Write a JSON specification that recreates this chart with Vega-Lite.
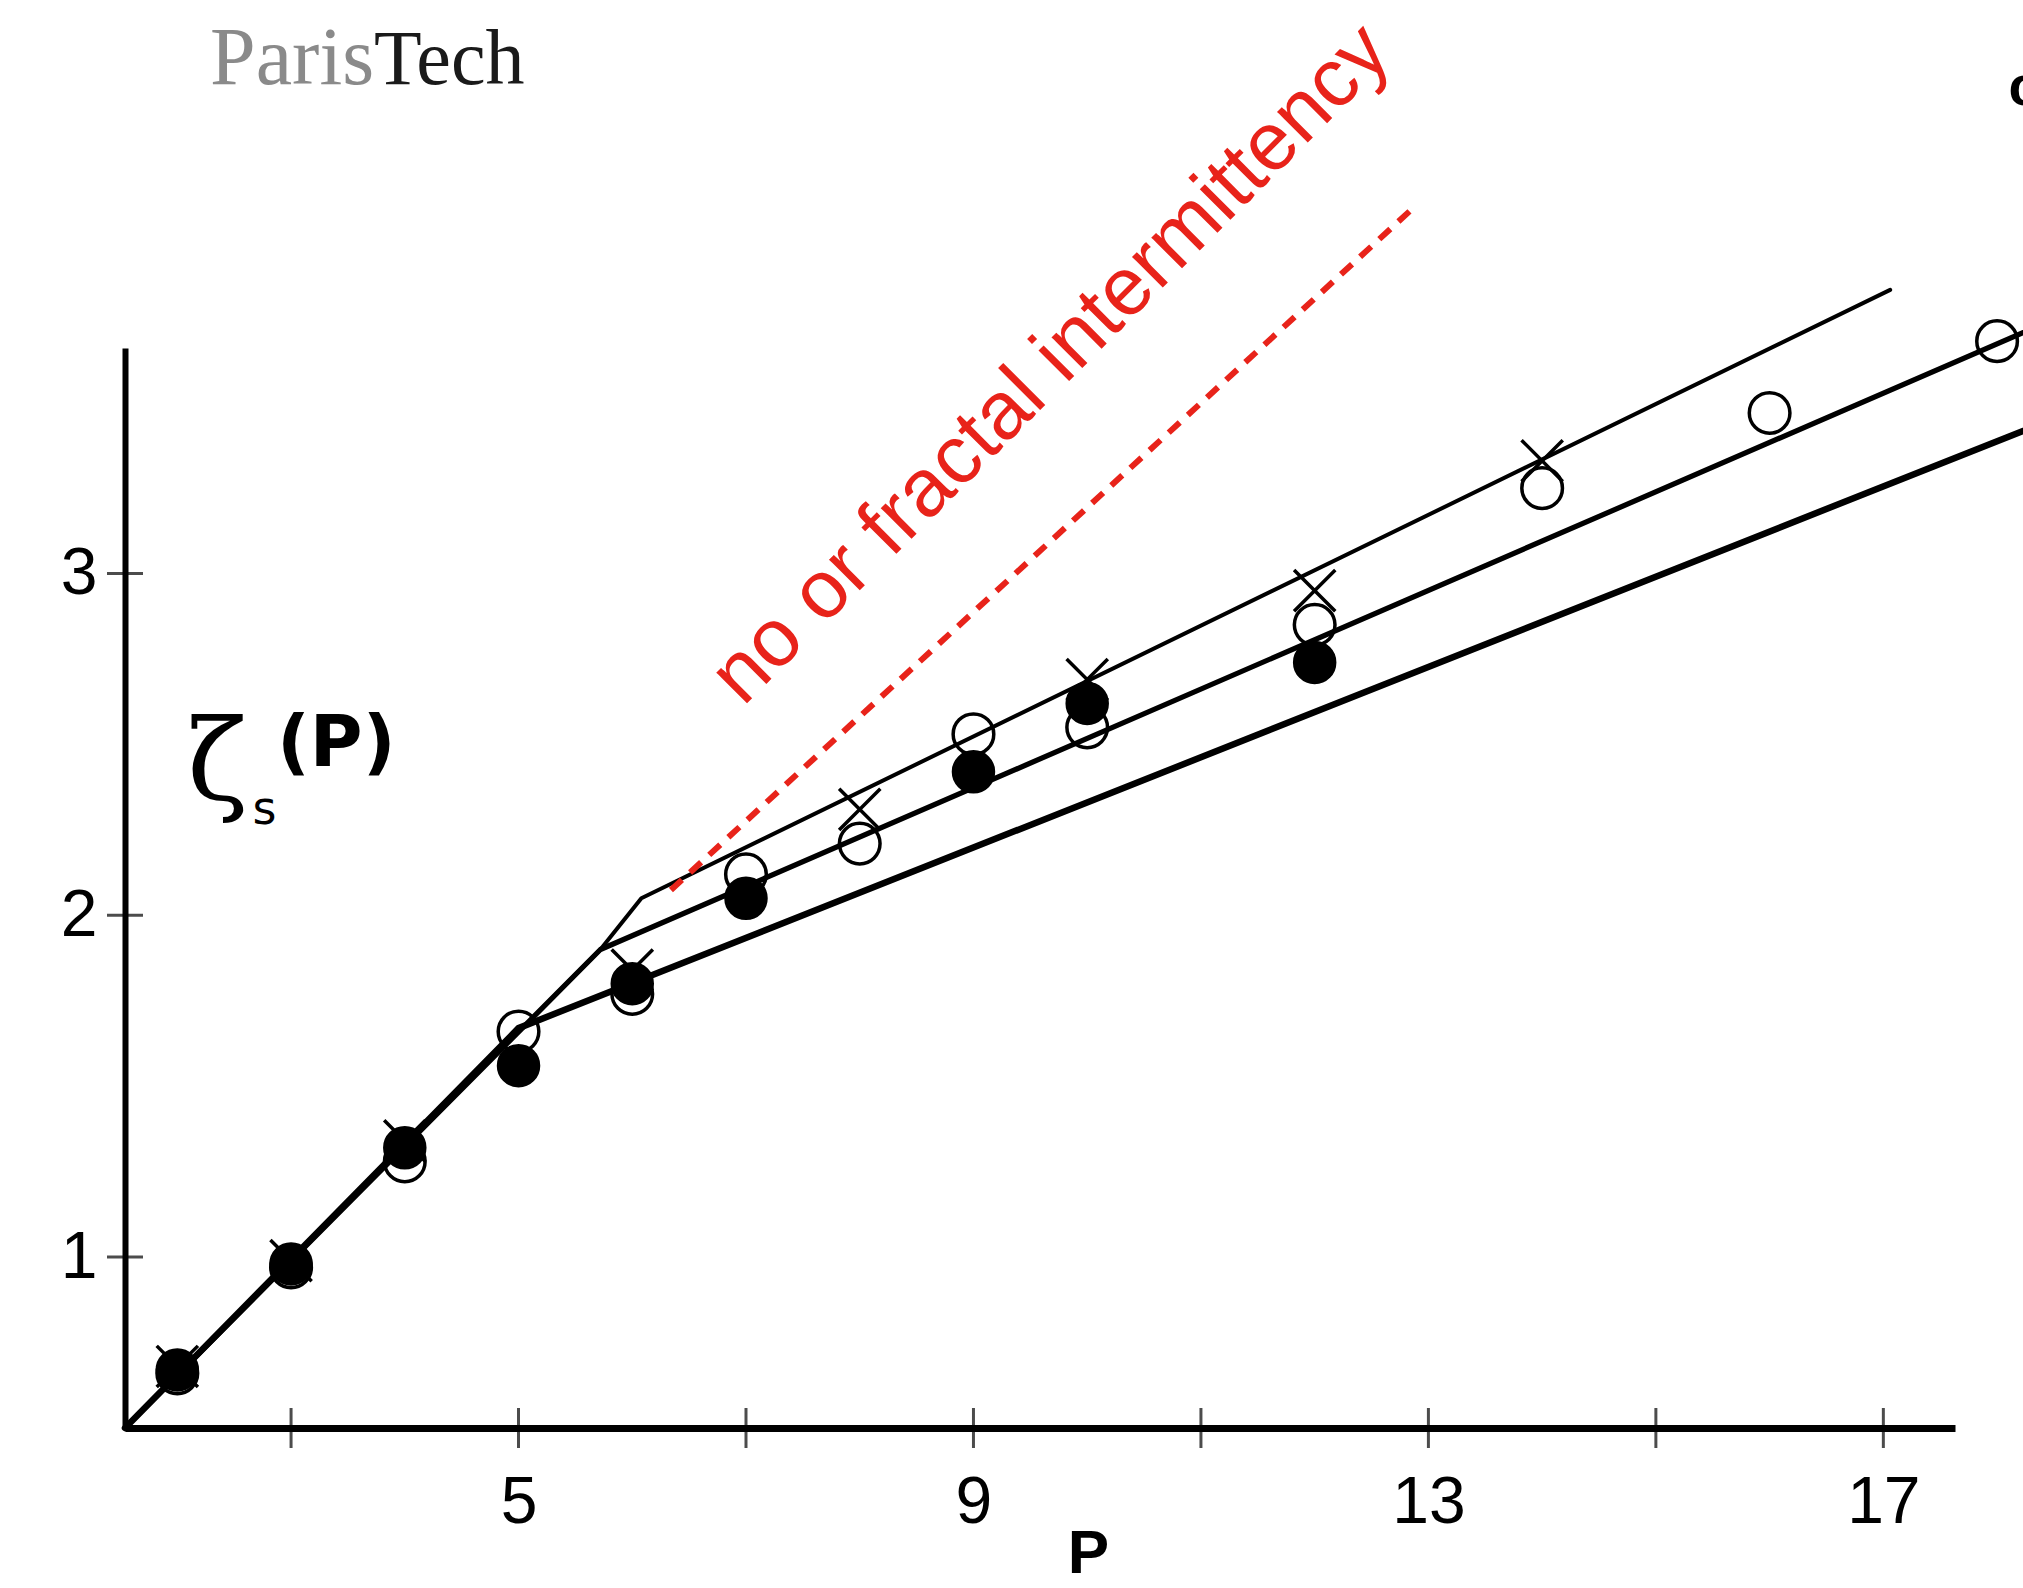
{
  "$schema": "https://vega.github.io/schema/vega-lite/v6.json",
  "width": 1830,
  "height": 1080,
  "autosize": {"type": "none"},
  "padding": {"left": 125, "top": 348, "right": 68, "bottom": 160},
  "background": "white",
  "config": {"view": {"stroke": null}},
  "datasets": {
    "points": [
      {"p": 2, "z": 0.67, "s": "filled"}, {"p": 2, "z": 0.66, "s": "open"}, {"p": 2, "z": 0.68, "s": "cross"},
      {"p": 3, "z": 0.98, "s": "filled"}, {"p": 3, "z": 0.97, "s": "open"}, {"p": 3, "z": 0.99, "s": "cross"},
      {"p": 4, "z": 1.32, "s": "filled"}, {"p": 4, "z": 1.28, "s": "open"}, {"p": 4, "z": 1.34, "s": "cross"},
      {"p": 5, "z": 1.56, "s": "filled"}, {"p": 5, "z": 1.66, "s": "open"},
      {"p": 6, "z": 1.80, "s": "filled"}, {"p": 6, "z": 1.77, "s": "open"}, {"p": 6, "z": 1.84, "s": "cross"},
      {"p": 7, "z": 2.05, "s": "filled"}, {"p": 7, "z": 2.12, "s": "open"},
      {"p": 8, "z": 2.21, "s": "open"}, {"p": 8, "z": 2.31, "s": "cross"},
      {"p": 9, "z": 2.42, "s": "filled"}, {"p": 9, "z": 2.53, "s": "open"},
      {"p": 10, "z": 2.62, "s": "filled"}, {"p": 10, "z": 2.55, "s": "open"}, {"p": 10, "z": 2.69, "s": "cross"},
      {"p": 12, "z": 2.74, "s": "filled"}, {"p": 12, "z": 2.85, "s": "open"}, {"p": 12, "z": 2.95, "s": "cross"},
      {"p": 14, "z": 3.25, "s": "open"}, {"p": 14, "z": 3.33, "s": "cross"},
      {"p": 16, "z": 3.47, "s": "open"},
      {"p": 18, "z": 3.68, "s": "open"}
    ],
    "lines": [
      {"line": "top", "p": 1.54, "z": 0.5}, {"line": "top", "p": 5.72, "z": 1.90}, {"line": "top", "p": 6.08, "z": 2.05}, {"line": "top", "p": 17.06, "z": 3.83},
      {"line": "mid", "p": 1.54, "z": 0.5}, {"line": "mid", "p": 5.72, "z": 1.90}, {"line": "mid", "p": 18.4, "z": 3.73},
      {"line": "bot", "p": 1.54, "z": 0.5}, {"line": "bot", "p": 5.0, "z": 1.67}, {"line": "bot", "p": 18.4, "z": 3.44}
    ],
    "dashed": [{"p": 6.34, "z": 2.074}, {"p": 12.9, "z": 4.08}],
    "ticksx": [{"p": 3}, {"p": 5}, {"p": 7}, {"p": 9}, {"p": 11}, {"p": 13}, {"p": 15}, {"p": 17}],
    "ticksy": [{"z": 1}, {"z": 2}, {"z": 3}],
    "notes": [
      {"t": "no or fractal intermittency", "p": 9.68, "z": 3.613, "k": "red"},
      {"t": "Paris", "p": 3.73, "z": 4.432, "k": "paris"},
      {"t": "Tech", "p": 3.73, "z": 4.432, "k": "tech"},
      {"t": "c", "p": 18.1, "z": 4.42, "k": "c"},
      {"t": "ζ", "p": 2.085, "z": 2.437, "k": "zeta"},
      {"t": "s", "p": 2.66, "z": 2.308, "k": "sub"},
      {"t": "(P)", "p": 2.876, "z": 2.50, "k": "arg"}
    ]
  },
  "layer": [
    {
      "data": {"name": "lines"},
      "mark": {"type": "line", "color": "black", "strokeCap": "round", "strokeJoin": "round"},
      "encoding": {
        "x": {"field": "p", "type": "quantitative", "scale": {"domain": [1.54, 17.63], "nice": false, "zero": false},
          "axis": {"values": [5, 9, 13, 17], "format": "d", "ticks": false, "tickSize": 0, "grid": false, "domainWidth": 7, "domainColor": "black",
            "labelFont": "Liberation Sans", "labelFontSize": 66, "labelColor": "black", "labelPadding": 42,
            "labelFlush": false, "labelOverlap": false,
            "title": "P", "titleFont": "Liberation Sans", "titleFontSize": 62, "titleFontWeight": "bold", "titleColor": "black",
            "titleX": 963, "titleY": 144, "titleBaseline": "alphabetic", "titleAlign": "center", "titleAnchor": null}},
        "y": {"field": "z", "type": "quantitative", "scale": {"domain": [0.5, 3.66], "nice": false, "zero": false},
          "axis": {"values": [1, 2, 3], "format": "d", "ticks": false, "tickSize": 0, "grid": false, "domainWidth": 6, "domainColor": "black",
            "labelFont": "Liberation Sans", "labelFontSize": 66, "labelColor": "black", "labelPadding": 28,
            "labelFlush": false, "labelOverlap": false, "title": null}},
        "detail": {"field": "line"},
        "strokeWidth": {"field": "line", "type": "nominal", "scale": {"domain": ["top", "mid", "bot"], "range": [4, 6.5, 6.5]}, "legend": null}
      }
    },
    {
      "data": {"name": "dashed"},
      "mark": {"type": "line", "color": "#e8231a", "strokeWidth": 6, "strokeDash": [15, 11]},
      "encoding": {
        "x": {"field": "p", "type": "quantitative", "scale": {"domain": [1.54, 17.63], "nice": false, "zero": false}},
        "y": {"field": "z", "type": "quantitative", "scale": {"domain": [0.5, 3.66], "nice": false, "zero": false}}
      }
    },
    {
      "data": {"name": "ticksx"},
      "mark": {"type": "tick", "orient": "vertical", "size": 40, "thickness": 3, "color": "black"},
      "encoding": {
        "x": {"field": "p", "type": "quantitative", "scale": {"domain": [1.54, 17.63], "nice": false, "zero": false}},
        "y": {"datum": 0.5, "type": "quantitative", "scale": {"domain": [0.5, 3.66], "nice": false, "zero": false}}
      }
    },
    {
      "data": {"name": "ticksy"},
      "mark": {"type": "tick", "orient": "horizontal", "size": 36, "thickness": 3, "color": "black"},
      "encoding": {
        "x": {"datum": 1.54, "type": "quantitative", "scale": {"domain": [1.54, 17.63], "nice": false, "zero": false}},
        "y": {"field": "z", "type": "quantitative", "scale": {"domain": [0.5, 3.66], "nice": false, "zero": false}}
      }
    },
    {
      "data": {"name": "points"},
      "mark": {"type": "point", "filled": false, "stroke": "black", "strokeWidth": 3.5, "opacity": 1},
      "encoding": {
        "x": {"field": "p", "type": "quantitative", "scale": {"domain": [1.54, 17.63], "nice": false, "zero": false}},
        "y": {"field": "z", "type": "quantitative", "scale": {"domain": [0.5, 3.66], "nice": false, "zero": false}},
        "shape": {"field": "s", "type": "nominal", "scale": {"domain": ["filled", "open", "cross"], "range": ["circle", "circle", "M-1,-1L1,1M-1,1L1,-1"]}, "legend": null},
        "size": {"field": "s", "type": "nominal", "scale": {"domain": ["filled", "open", "cross"], "range": [1600, 1700, 900]}, "legend": null},
        "fill": {"field": "s", "type": "nominal", "scale": {"domain": ["filled", "open", "cross"], "range": ["black", "transparent", "transparent"]}, "legend": null}
      }
    },
    {
      "data": {"name": "notes"},
      "transform": [{"filter": "datum.k === 'red'"}],
      "mark": {"type": "text", "angle": -45, "align": "center", "baseline": "middle", "font": "Liberation Sans", "fontSize": 82, "color": "#e8231a"},
      "encoding": {
        "x": {"field": "p", "type": "quantitative", "scale": {"domain": [1.54, 17.63], "nice": false, "zero": false}},
        "y": {"field": "z", "type": "quantitative", "scale": {"domain": [0.5, 3.66], "nice": false, "zero": false}},
        "text": {"field": "t"}
      }
    },
    {
      "data": {"name": "notes"},
      "transform": [{"filter": "datum.k === 'paris'"}],
      "mark": {"type": "text", "align": "right", "baseline": "alphabetic", "font": "Liberation Serif", "fontSize": 82, "color": "#8a8a8a"},
      "encoding": {
        "x": {"field": "p", "type": "quantitative", "scale": {"domain": [1.54, 17.63], "nice": false, "zero": false}},
        "y": {"field": "z", "type": "quantitative", "scale": {"domain": [0.5, 3.66], "nice": false, "zero": false}},
        "text": {"field": "t"}
      }
    },
    {
      "data": {"name": "notes"},
      "transform": [{"filter": "datum.k === 'tech'"}],
      "mark": {"type": "text", "align": "left", "baseline": "alphabetic", "font": "Liberation Serif", "fontSize": 78, "color": "#1a1a1a"},
      "encoding": {
        "x": {"field": "p", "type": "quantitative", "scale": {"domain": [1.54, 17.63], "nice": false, "zero": false}},
        "y": {"field": "z", "type": "quantitative", "scale": {"domain": [0.5, 3.66], "nice": false, "zero": false}},
        "text": {"field": "t"}
      }
    },
    {
      "data": {"name": "notes"},
      "transform": [{"filter": "datum.k === 'c'"}],
      "mark": {"type": "text", "align": "left", "baseline": "middle", "font": "Liberation Sans", "fontSize": 56, "fontWeight": "bold", "color": "black"},
      "encoding": {
        "x": {"field": "p", "type": "quantitative", "scale": {"domain": [1.54, 17.63], "nice": false, "zero": false}},
        "y": {"field": "z", "type": "quantitative", "scale": {"domain": [0.5, 3.66], "nice": false, "zero": false}},
        "text": {"field": "t"}
      }
    },
    {
      "data": {"name": "notes"},
      "transform": [{"filter": "datum.k === 'zeta'"}],
      "mark": {"type": "text", "align": "left", "baseline": "middle", "font": "DejaVu Serif", "fontSize": 112, "color": "black"},
      "encoding": {
        "x": {"field": "p", "type": "quantitative", "scale": {"domain": [1.54, 17.63], "nice": false, "zero": false}},
        "y": {"field": "z", "type": "quantitative", "scale": {"domain": [0.5, 3.66], "nice": false, "zero": false}},
        "text": {"field": "t"}
      }
    },
    {
      "data": {"name": "notes"},
      "transform": [{"filter": "datum.k === 'sub'"}],
      "mark": {"type": "text", "align": "left", "baseline": "middle", "font": "DejaVu Sans", "fontSize": 46, "color": "black"},
      "encoding": {
        "x": {"field": "p", "type": "quantitative", "scale": {"domain": [1.54, 17.63], "nice": false, "zero": false}},
        "y": {"field": "z", "type": "quantitative", "scale": {"domain": [0.5, 3.66], "nice": false, "zero": false}},
        "text": {"field": "t"}
      }
    },
    {
      "data": {"name": "notes"},
      "transform": [{"filter": "datum.k === 'arg'"}],
      "mark": {"type": "text", "align": "left", "baseline": "middle", "font": "DejaVu Sans", "fontSize": 72, "fontWeight": "bold", "color": "black"},
      "encoding": {
        "x": {"field": "p", "type": "quantitative", "scale": {"domain": [1.54, 17.63], "nice": false, "zero": false}},
        "y": {"field": "z", "type": "quantitative", "scale": {"domain": [0.5, 3.66], "nice": false, "zero": false}},
        "text": {"field": "t"}
      }
    }
  ]
}
